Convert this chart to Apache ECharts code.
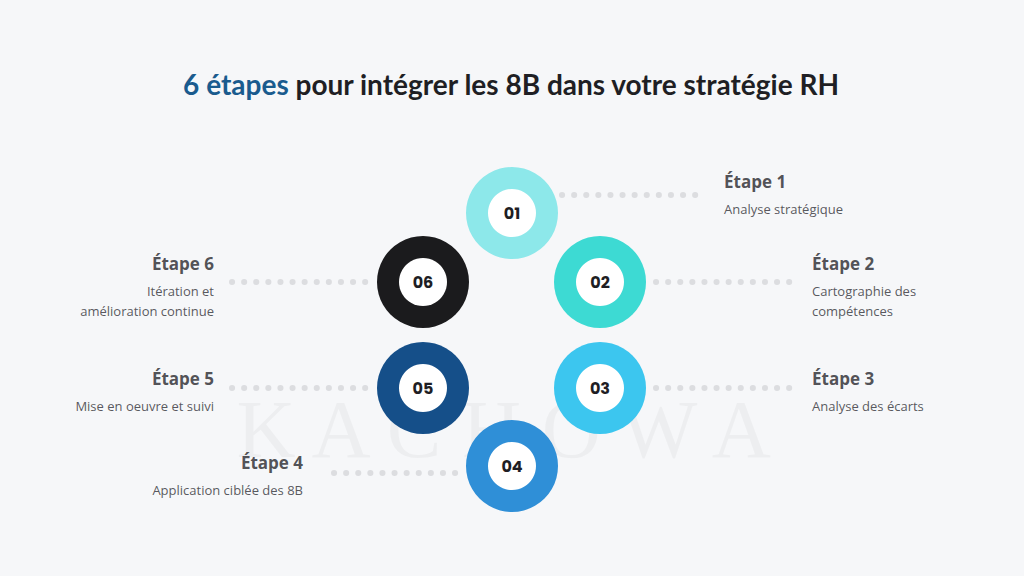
<!DOCTYPE html>
<html><head><meta charset="utf-8">
<script src="https://cdn.jsdelivr.net/npm/echarts@6/dist/echarts.min.js"></script>
<style>html,body{margin:0;background:#f6f7f9}#c{width:1024px;height:576px}</style>
</head><body><div id="c"></div>
<script>
var stepNums = ['01', '02', '03', '04', '05', '06'];
var stepTitles = ['Étape 1', 'Étape 2', 'Étape 3', 'Étape 4', 'Étape 5', 'Étape 6'];
var stepDescs = ['Analyse stratégique', 'Cartographie des\ncompétences', 'Analyse des écarts',
  'Application ciblée des 8B', 'Mise en oeuvre et suivi', 'Itération et\namélioration continue'];
var stepColors = ['#8de8ea', '#3ddad3', '#3cc6ef', '#2f8fd7', '#154f89', '#1b1b1d'];
// circle centres (layout units = pixels)
var circleX = [512, 600, 600, 512, 423, 423];
var circleY = [213, 282, 388, 466, 388, 282];
// dotted connector segments [x1, x2, y]
var linkX1 = [562, 656, 656, 334, 232, 232];
var linkX2 = [700, 796, 796, 460, 370, 370];
var linkY = [195, 282, 388, 473, 388, 282];
// text anchors
var textX = [724, 812, 812, 303, 214, 214];
var textY = [163, 245, 360, 444, 360, 245];
var textAlign = ['left', 'left', 'left', 'right', 'right', 'right'];

var chart = echarts.init(document.getElementById('c'), null, {renderer: 'svg'});
var series = [];
for (var i = 0; i < 6; i++) {
  series.push({
    type: 'line', data: [[linkX1[i], linkY[i]], [linkX2[i], linkY[i]]], symbol: 'none', silent: true,
    lineStyle: {color: '#dcdde0', width: 6, type: [0.1, 12], cap: 'round'}, z: 1
  });
}
series.push({
  type: 'scatter', symbolSize: 92, z: 2, silent: true,
  data: circleX.map(function (x, i) { return {value: [x, circleY[i]], itemStyle: {color: stepColors[i], opacity: 1}}; })
});
series.push({
  type: 'scatter', symbolSize: 48, z: 3, silent: true, itemStyle: {color: '#ffffff', opacity: 1},
  data: circleX.map(function (x, i) { return [x, circleY[i], stepNums[i]]; }),
  label: {show: true, position: 'inside', formatter: function (p) { return p.value[2]; },
    fontFamily: 'Poppins, "Open Sans", sans-serif', fontWeight: 'bold', fontSize: 16, color: '#1e1e24'}
});
series.push({
  type: 'scatter', symbolSize: 0, z: 4, silent: true,
  data: textX.map(function (x, i) {
    return {value: [x, textY[i]], label: {show: true, position: 'inside', align: textAlign[i], verticalAlign: 'top',
      formatter: '{t|' + stepTitles[i] + '}\n{d|' + stepDescs[i].split('\n').join('}\n{d|') + '}',
      rich: {
        t: {fontFamily: '"Open Sans", sans-serif', fontWeight: 'bold', fontSize: 17, color: '#26262b', lineHeight: 36, align: textAlign[i]},
        d: {fontFamily: '"Open Sans", sans-serif', fontSize: 13, color: '#2e2e34', lineHeight: 20, align: textAlign[i]}
      }}};
  })
});
chart.setOption({
  backgroundColor: '#f6f7f9',
  animation: false,
  grid: {left: 0, right: 0, top: 0, bottom: 0},
  xAxis: {type: 'value', min: 0, max: 1024, show: false},
  yAxis: {type: 'value', min: 0, max: 576, inverse: true, show: false},
  graphic: [
    {type: 'text', left: 'center', top: 388, z: 0, silent: true,
      style: {text: 'K A C H O W A', fontFamily: '"Liberation Serif", serif', fontSize: 82, fill: 'rgba(0,0,0,0.035)'}},
    {type: 'text', left: 'center', top: 70, style: {
      rich: {b: {fill: '#1a5b8e', fontWeight: 'bold', fontSize: 28, fontFamily: 'Lato, sans-serif'},
             k: {fill: '#1f1f24', fontWeight: 'bold', fontSize: 28, fontFamily: 'Lato, sans-serif'}},
      text: '{b|6 étapes}{k| pour intégrer les 8B dans votre stratégie RH}'}}
  ],
  series: series
});
</script></body></html>
